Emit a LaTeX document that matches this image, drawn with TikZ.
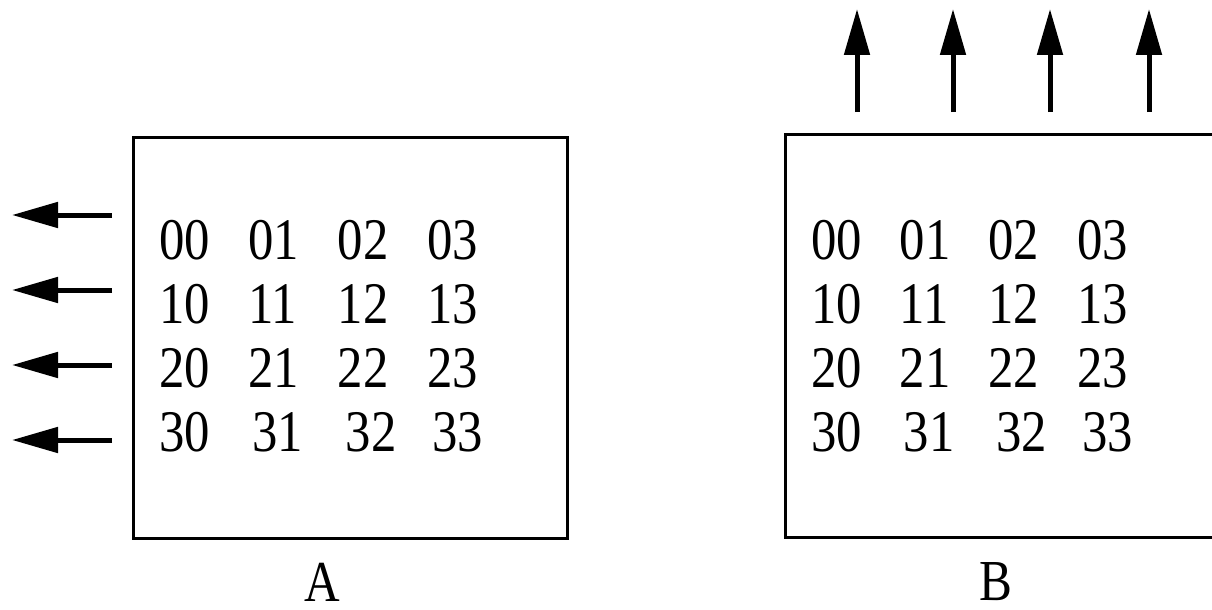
\documentclass[tikz,border=0pt]{standalone}
\usepackage{fontspec}
\setmainfont{Liberation Serif}
\usetikzlibrary{arrows.meta}
\begin{document}
\begin{tikzpicture}[x=1pt,y=-1pt,
  frame/.style={draw, line width=3pt, inner sep=0pt},
  cell/.style={inner sep=0pt, anchor=west, font=\fontsize{59}{70}\selectfont},
  title/.style={inner sep=0pt, font=\fontsize{58}{66}\selectfont},
  arr/.style={line width=5pt, -{Triangle[length=46pt,width=25pt]}}]
  \useasboundingbox (0,0) rectangle (1212,610);
  \clip (0,0) rectangle (1212,610);

  % the two matrices
  \node[frame, minimum width=434pt, minimum height=401pt] (boxA) at (350,337.5) {};
  \node[frame, minimum width=445pt, minimum height=403pt] (boxB) at (1007.5,335.5) {};

  % matrix entries
  \foreach \r in {0,...,3}{
    \foreach \c in {0,...,3}{
      \pgfmathsetmacro\dx{(\r==3)*{0,4,8,5}[\c]}
      \node[cell] (a\r\c) at ({159+89.3*\c+\dx},{240+64*\r}) {\scalebox{0.86}[1]{\r\c}};
      \node[cell] (b\r\c) at ({811+88.7*\c+\dx},{240+64*\r}) {\scalebox{0.86}[1]{\r\c}};
    }
  }

  % captions
  \node[title] (capA) at (322,582) {\scalebox{0.85}[1]{A}};
  \node[title] (capB) at (996,582) {\scalebox{0.85}[1]{B}};

  % row-wise output of A
  \foreach \i/\y in {0/215,1/290,2/365,3/440}{
    \coordinate (ls\i) at (112,\y);
    \coordinate (le\i) at (12,\y);
    \draw[arr] (ls\i) -- (le\i);
  }

  % column-wise output of B
  \foreach \i/\x in {0/857,1/953,2/1050,3/1149}{
    \coordinate (us\i) at (\x,112);
    \coordinate (ue\i) at (\x,9);
    \draw[arr] (us\i) -- (ue\i);
  }
\end{tikzpicture}
\end{document}
